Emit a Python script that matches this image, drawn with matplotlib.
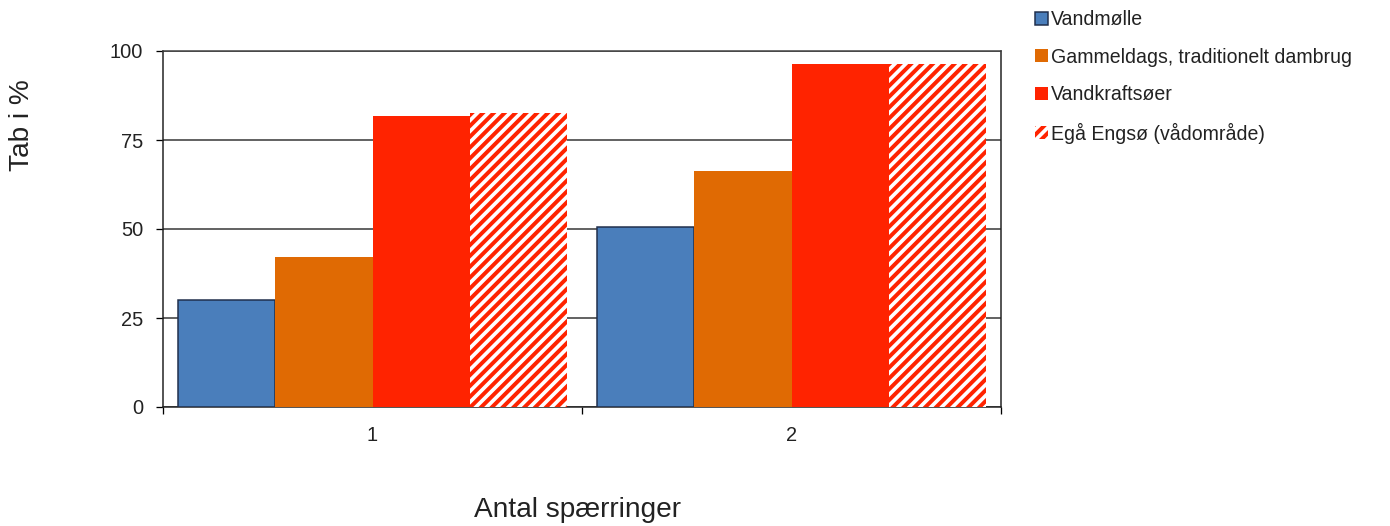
import matplotlib
matplotlib.use("Agg")
import matplotlib.pyplot as plt
from matplotlib.patches import Patch
import numpy as np

plt.rcParams['font.family'] = ['Liberation Sans', 'DejaVu Sans']
plt.rcParams['hatch.linewidth'] = 2.2

categories = ["1", "2"]
series_names = ["Vandmølle", "Gammeldags, traditionelt dambrug", "Vandkraftsøer", "Egå Engsø (vådområde)"]
vandmolle = [30, 50.6]
gammeldags = [42, 66.3]
vandkraft = [81.8, 96.3]
egaa = [82.5, 96.3]
yticks = [0, 25, 50, 75, 100]

colors = ["#4A7EBB", "#E06A03", "#FF2300", "#FF2300"]

DPI = 130
fig = plt.figure(figsize=(1390 / DPI, 526 / DPI), dpi=DPI)
px = 72 / DPI  # points per pixel

ax = fig.add_axes([163 / 1390, 1 - 407 / 526, (1001 - 163) / 1390, (407 - 51) / 526])

x = np.arange(len(categories))
w = 0.2325
all_vals = [vandmolle, gammeldags, vandkraft, egaa]
for i, vals in enumerate(all_vals):
    pos = x + (i - 1.5) * w
    if i == 0:
        ax.bar(pos, vals, w, color=colors[i], edgecolor="#1F2D4A", linewidth=1.5 * px, zorder=3)
    elif i == 3:
        ax.bar(pos, vals, w, facecolor="white", edgecolor=colors[i], hatch="////", linewidth=0, zorder=3)
    else:
        ax.bar(pos, vals, w, color=colors[i], linewidth=0, zorder=3)

ax.set_xlim(-0.5, 1.5)
ax.set_ylim(0, 100)
ax.set_yticks(yticks)
ax.set_yticklabels([str(v) for v in yticks])
ax.yaxis.grid(True, color="#404040", linewidth=1.6 * px, zorder=0)
ax.set_axisbelow(True)

ax.set_xticks([-0.5, 0.5, 1.5])
ax.set_xticklabels(["", "", ""])
ax.set_xticks(x, minor=True)
ax.set_xticklabels(categories, minor=True)
ax.tick_params(axis="x", which="major", length=7 * px, width=1.3 * px, direction="out")
ax.tick_params(axis="x", which="minor", length=0, pad=19 * px, labelsize=20 * px, labelcolor="#222222")
ax.tick_params(axis="y", length=7 * px, width=1.3 * px, direction="out", pad=13 * px,
               labelsize=20 * px, labelcolor="#222222")
for s in ax.spines.values():
    s.set_linewidth(1.5 * px)
    s.set_color("#202020")
ax.spines["top"].set_color("#404040")

fig.text(22 / 1390, 1 - 125 / 526, "Tab i %", rotation=90, ha="center", va="center",
         fontsize=28 * px, color="#222222")
fig.text(577 / 1390, 1 - 510 / 526, "Antal spærringer", ha="center", va="center",
         fontsize=28 * px, color="#222222")

handles = [
    Patch(facecolor=colors[0], edgecolor="#1F2D4A", linewidth=1.5 * px),
    Patch(facecolor=colors[1], linewidth=0),
    Patch(facecolor=colors[2], linewidth=0),
    Patch(facecolor="white", edgecolor=colors[3], hatch="////", linewidth=0),
]
leg = fig.legend(handles, series_names, loc="upper left",
                 bbox_to_anchor=(1035 / 1390, 1 - 10 / 526),
                 frameon=False, fontsize=19.5 * px, handlelength=0.65, handleheight=0.65,
                 handletextpad=0.15, labelspacing=0.95, borderaxespad=0, borderpad=0)
for t in leg.get_texts():
    t.set_color("#222222")

fig.savefig("out.png", dpi=DPI)
